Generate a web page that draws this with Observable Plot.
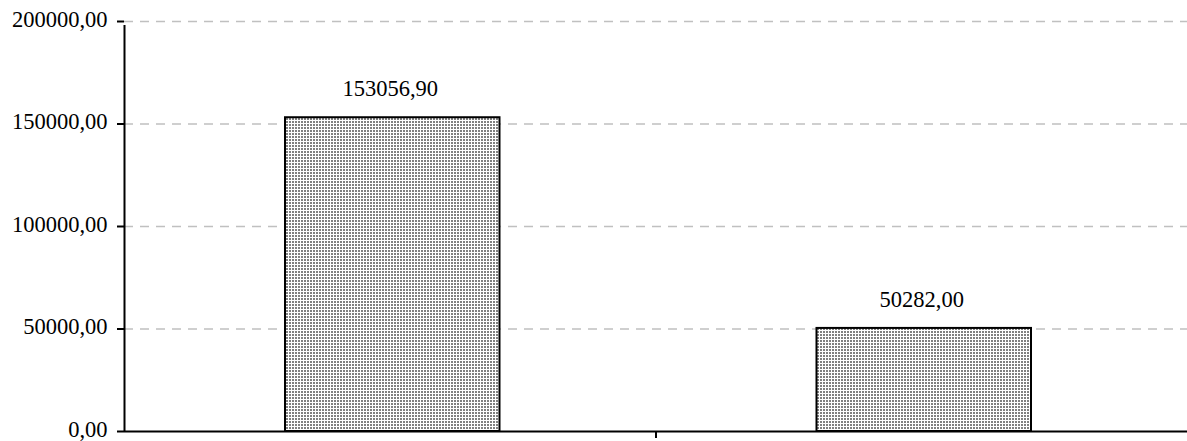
<!DOCTYPE html>
<html>
<head>
<meta charset="utf-8">
<script src="https://cdn.jsdelivr.net/npm/d3@7"></script>
<script src="https://cdn.jsdelivr.net/npm/@observablehq/plot@0.6"></script>
<style>
  html, body { margin: 0; padding: 0; background: #fff; }
  #chart svg { display: block; overflow: visible; }
</style>
</head>
<body>
<div id="chart"></div>
<script>
const categories = ["Série 1", "Série 2"];
const values = [153056.90, 50282.00];
const yTicks = [0, 50000, 100000, 150000, 200000];
const gridTicks = [50000, 100000, 150000, 200000];

const data = categories.map((c, i) => ({cat: c, idx: i, value: values[i]}));
const fmt = v => v.toFixed(2).replace(".", ",");

const W = 1187, H = 441;
const chart = Plot.plot({
  width: W,
  height: H,
  marginLeft: 124,
  marginRight: 0,
  marginTop: 21,
  marginBottom: 10,
  style: {fontFamily: "'Liberation Serif', 'Times New Roman', serif", fontSize: "22.5px", color: "#000", background: "#fff", overflow: "visible"},
  x: {type: "linear", domain: [0, categories.length], axis: null},
  y: {domain: [0, 200000], axis: null},
  marks: [
    Plot.gridY(gridTicks, {stroke: "#c0c0c0", strokeOpacity: 1, strokeWidth: 1.5, strokeDasharray: "9,7"}),
    Plot.rectY(data, {x1: d => d.idx, x2: d => d.idx + 1, y: "value", insetLeft: 161, insetRight: 156, fill: "#bbb", stroke: "#000", strokeWidth: 2}),
    Plot.text(data, {x: d => d.idx + 0.5, y: "value", text: d => fmt(d.value), dy: -29, fontSize: 22.5, fill: "#000"}),
    Plot.ruleY([0], {stroke: "#000", strokeWidth: 2}),
    Plot.ruleX([0], {y1: 0, y2: 200000, stroke: "#000", strokeWidth: 2, insetBottom: -4}),
    Plot.axisY({ticks: yTicks, tickFormat: () => "", tickSize: 7, label: null, stroke: "#000", strokeWidth: 2, strokeOpacity: 1}),
    Plot.axisY({ticks: yTicks, tickFormat: fmt, tickSize: 0, tickPadding: 17, dy: -2, fontSize: 22.5, label: null, fill: "#000"}),
    Plot.axisX({ticks: [1], tickFormat: () => "", tickSize: 7, label: null, stroke: "#000", strokeWidth: 2, strokeOpacity: 1})
  ]
});

// dotted hatch fill for bars
const ns = "http://www.w3.org/2000/svg";
const defs = document.createElementNS(ns, "defs");
const pat = document.createElementNS(ns, "pattern");
pat.setAttribute("id", "dotfill");
pat.setAttribute("patternUnits", "userSpaceOnUse");
pat.setAttribute("width", "3");
pat.setAttribute("height", "3");
const bg = document.createElementNS(ns, "rect");
bg.setAttribute("width", "3"); bg.setAttribute("height", "3"); bg.setAttribute("fill", "#808080");
const h = document.createElementNS(ns, "rect");
h.setAttribute("width", "3"); h.setAttribute("height", "1"); h.setAttribute("fill", "#fff");
const v = document.createElementNS(ns, "rect");
v.setAttribute("width", "1"); v.setAttribute("height", "3"); v.setAttribute("fill", "#fff");
pat.append(bg, h, v);
defs.append(pat);
chart.insertBefore(defs, chart.firstChild);
chart.querySelectorAll('g[aria-label="rect"] rect').forEach(r => r.setAttribute("fill", "url(#dotfill)"));

document.getElementById("chart").append(chart);
</script>
</body>
</html>
